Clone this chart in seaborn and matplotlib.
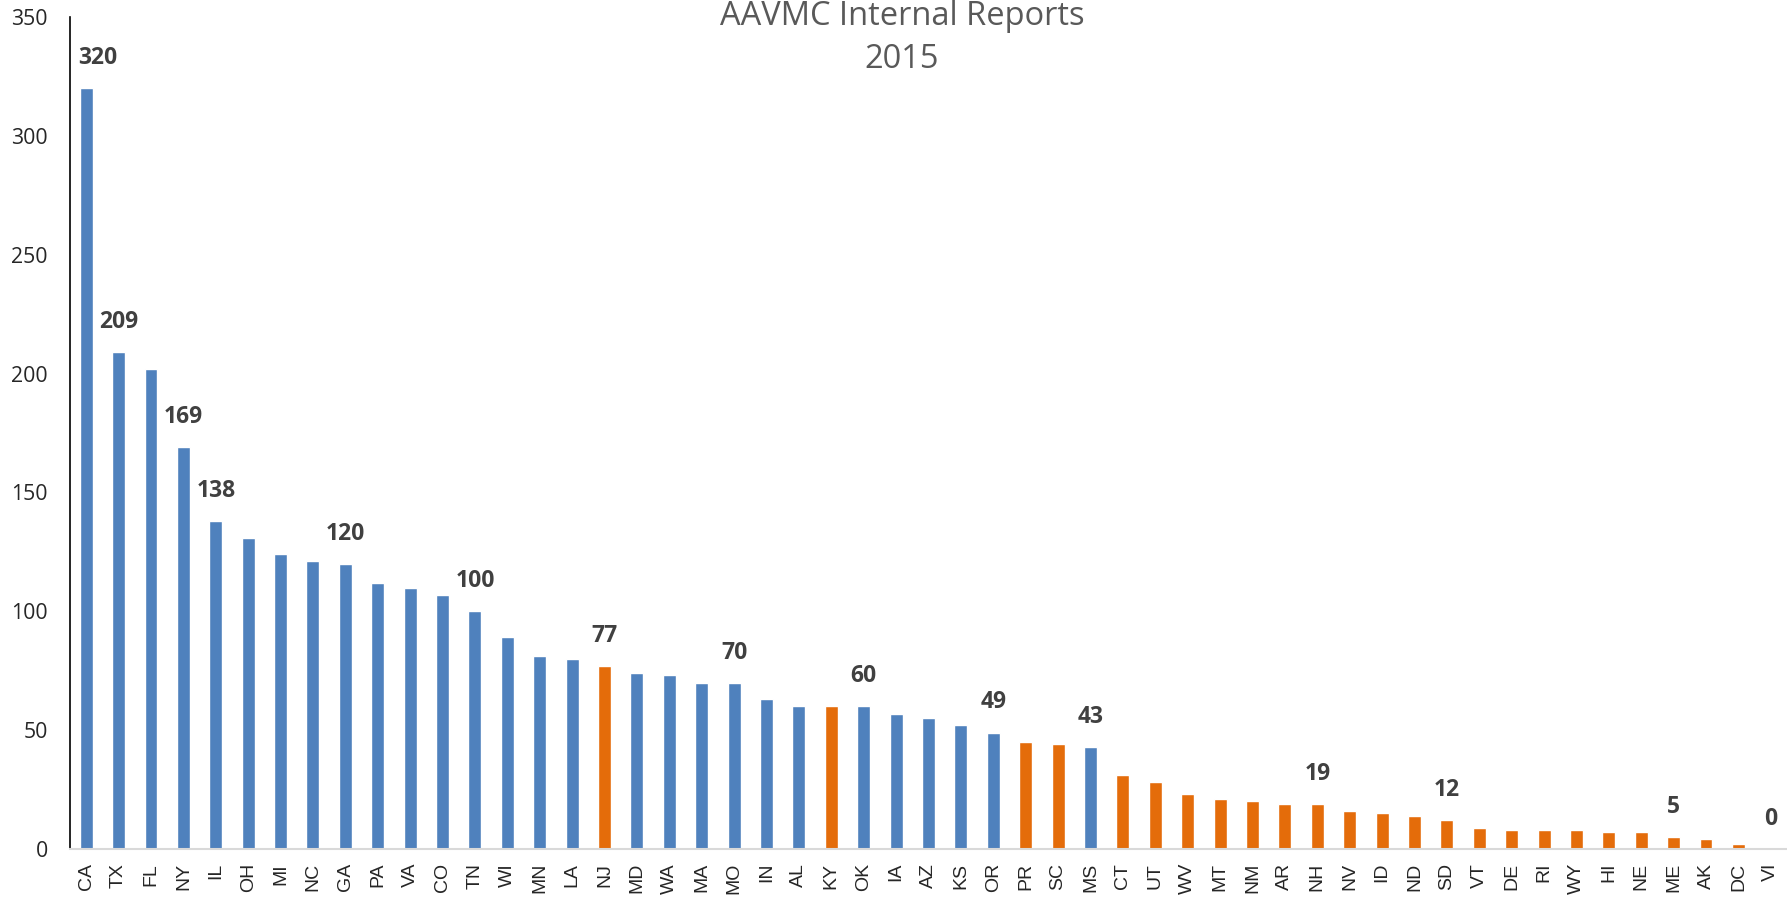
import pandas as pd
import matplotlib.pyplot as plt
import seaborn as sns

# Data
states = ['CA', 'TX', 'FL', 'NY', 'IL', 'OH', 'MI', 'NC', 'GA', 'PA', 'VA', 'CO',
          'TN', 'WI', 'MN', 'LA', 'NJ', 'MD', 'WA', 'MA', 'MO', 'IN', 'AL', 'KY',
          'OK', 'IA', 'AZ', 'KS', 'OR', 'PR', 'SC', 'MS', 'CT', 'UT', 'WV', 'MT',
          'NM', 'AR', 'NH', 'NV', 'ID', 'ND', 'SD', 'VT', 'DE', 'RI', 'WY', 'HI',
          'NE', 'ME', 'AK', 'DC', 'VI']
counts = [320, 209, 202, 169, 138, 131, 124, 121, 120, 112, 110, 107,
          100, 89, 81, 80, 77, 74, 73, 70, 70, 63, 60, 60,
          60, 57, 55, 52, 49, 45, 44, 43, 31, 28, 23, 21,
          20, 19, 19, 16, 15, 14, 12, 9, 8, 8, 8, 7,
          7, 5, 4, 2, 0]
orange_states = ['NJ', 'KY', 'PR', 'SC', 'CT', 'UT', 'WV', 'MT', 'NM', 'AR', 'NH',
                 'NV', 'ID', 'ND', 'SD', 'VT', 'DE', 'RI', 'WY', 'HI', 'NE', 'ME',
                 'AK', 'DC', 'VI']
labelled = ['CA', 'TX', 'NY', 'IL', 'GA', 'TN', 'NJ', 'MO', 'OK', 'OR', 'MS',
            'NH', 'SD', 'ME', 'VI']
y_ticks = [0, 50, 100, 150, 200, 250, 300, 350]

df = pd.DataFrame({'state': states, 'count': counts})
df['group'] = ['orange' if s in orange_states else 'blue' for s in states]

sns.set_style('white')
plt.rcParams['font.family'] = ['Open Sans', 'DejaVu Sans']

W, H = 1787, 898
fig = plt.figure(figsize=(W / 100, H / 100), dpi=100)
ax = fig.add_axes([70 / W, 1 - 849 / H, 1 - 70 / W, (849 - 17) / H])

sns.barplot(data=df, x='state', y='count', hue='group', dodge=False,
            palette={'blue': '#4F81BD', 'orange': '#E46C0A'}, saturation=1,
            width=0.4, legend=False, ax=ax)

# data labels on selected bars
for i, (s, v) in enumerate(zip(states, counts)):
    if s in labelled:
        dx = 8 if s == 'CA' else 0
        ax.annotate(str(v), (i, v), xytext=(dx, 13), textcoords='offset points',
                    ha='center', va='bottom', fontsize=16.5, fontweight='bold',
                    color='#404040')

ax.set_xlim(-0.5, len(states) - 0.5)
ax.set_ylim(0, 350)
ax.set_yticks(y_ticks)
ax.set_xlabel('')
ax.set_ylabel('')
ax.tick_params(axis='x', rotation=90, length=0, pad=10)
ax.tick_params(axis='y', labelsize=15.3, length=0, pad=16)
for lab in ax.get_xticklabels():
    lab.set_fontfamily(['Liberation Sans', 'DejaVu Sans'])
    lab.set_fontsize(14)

sns.despine(ax=ax, top=True, right=True)
ax.spines['left'].set_color('black')
ax.spines['left'].set_linewidth(1.2)
ax.spines['bottom'].set_color('#D9D9D9')
ax.spines['bottom'].set_linewidth(1.5)

fig.text(902 / W, 1 - 25 / H, 'AAVMC Internal Reports', ha='center',
         va='baseline', fontsize=23.5, color='#595959')
fig.text(902 / W, 1 - 68 / H, '2015', ha='center',
         va='baseline', fontsize=23.5, color='#595959')

fig.savefig('out.png', dpi=100)
